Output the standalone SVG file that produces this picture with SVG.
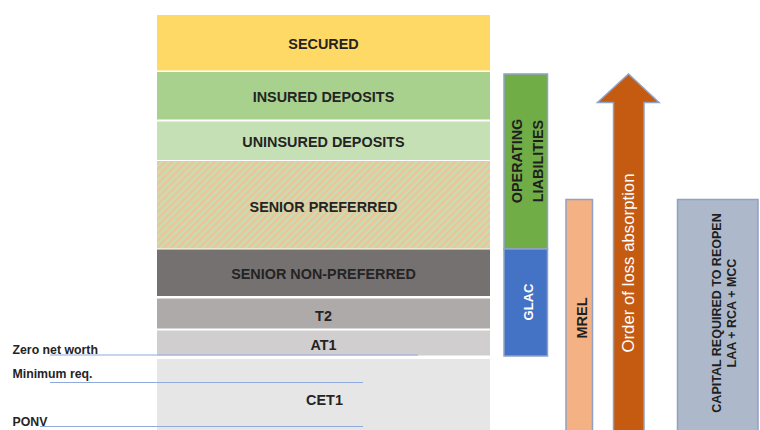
<svg xmlns="http://www.w3.org/2000/svg" width="760" height="430" viewBox="0 0 760 430">
<style>
.lbl{font-family:"Liberation Sans",Arial,sans-serif;font-weight:bold;font-size:14.4px;fill:#242424;text-anchor:middle}
.side{font-family:"Liberation Sans",Arial,sans-serif;font-weight:bold;font-size:12.3px;fill:#242424}
.vt{font-family:"Liberation Sans",Arial,sans-serif;font-weight:bold;text-anchor:middle}
.box{stroke:#8FA2C4;stroke-width:1.5}
.lvl{stroke:#8FAADC;stroke-width:1.2;fill:none}
</style>
<defs>
<pattern id="hatch" patternUnits="userSpaceOnUse" width="5" height="5" patternTransform="rotate(45)">
<rect width="5" height="5" fill="#C5DFB0"/>
<rect width="2.5" height="5" fill="#EFC29A"/>
</pattern>
</defs>
<rect width="760" height="430" fill="#ffffff"/>
<g id="secured"><rect x="157" y="15" width="333" height="55.5" fill="#FFD966"/><text class="lbl" x="323.5" y="49">SECURED</text></g>
<g id="insured"><rect x="157" y="72" width="333" height="47.5" fill="#A9D18E"/><text class="lbl" x="323.5" y="102">INSURED DEPOSITS</text></g>
<g id="uninsured"><rect x="157" y="121.5" width="333" height="38.5" fill="#C5E0B4"/><text class="lbl" x="323.5" y="146.5">UNINSURED DEPOSITS</text></g>
<g id="senior-preferred"><rect x="157" y="161" width="333" height="87.5" fill="url(#hatch)"/><text class="lbl" x="323.5" y="212">SENIOR PREFERRED</text></g>
<g id="senior-non-preferred"><rect x="157" y="249.5" width="333" height="46.5" fill="#767171"/><text class="lbl" x="323.5" y="279">SENIOR NON-PREFERRED</text></g>
<g id="t2"><rect x="157" y="298.5" width="333" height="30" fill="#AEAAAA"/><text class="lbl" x="323.5" y="320.5">T2</text></g>
<g id="at1"><rect x="157" y="330.5" width="333" height="25" fill="#D0CECE"/><text class="lbl" x="323.5" y="350">AT1</text></g>
<g id="cet1"><rect x="157" y="359" width="333" height="71" fill="#E7E6E6"/><text class="lbl" x="324.5" y="405">CET1</text></g>
<g id="levels">
<line class="lvl" x1="50" y1="355" x2="418" y2="355" stroke="#8C9BB5"/>
<line class="lvl" x1="50" y1="382.5" x2="363" y2="382.5"/>
<line class="lvl" x1="40" y1="426.5" x2="363" y2="426.5"/>
<text class="side" x="12.5" y="353.5">Zero net worth</text>
<text class="side" x="12.5" y="377.5">Minimum req.</text>
<text class="side" x="12.5" y="425.5">PONV</text>
</g>
<g id="operating-liabilities"><rect class="box" x="504" y="74" width="43.5" height="175" fill="#70AD47"/>
<text class="vt" font-size="14.4" fill="#1f1f1f" transform="translate(521.5,161) rotate(-90)">OPERATING</text>
<text class="vt" font-size="14.4" fill="#1f1f1f" transform="translate(543,161) rotate(-90)">LIABILITIES</text></g>
<g id="glac"><rect class="box" x="504" y="249" width="43.5" height="107" fill="#4472C4"/>
<text class="vt" font-size="13" fill="#ffffff" transform="translate(532.5,302) rotate(-90)">GLAC</text></g>
<g id="mrel"><rect class="box" x="566" y="199.5" width="26.5" height="232" fill="#F4B183"/>
<text class="vt" font-size="14.5" fill="#1f1f1f" transform="translate(586.5,318) rotate(-90)">MREL</text></g>
<g id="loss-arrow"><path class="box" d="M613.5,432 V102.5 H597.5 L628.5,74 L659,102.5 H644 V432 Z" fill="#C55A11"/>
<text font-family="Liberation Sans,Arial,sans-serif" font-size="16.8" fill="#ffffff" text-anchor="middle" transform="translate(634,263) rotate(-90)">Order of loss absorption</text></g>
<g id="capital"><rect class="box" x="677.5" y="199.5" width="80.5" height="232" fill="#ADB9CA"/>
<text class="vt" font-size="12.5" fill="#1f1f1f" transform="translate(720.5,313) rotate(-90)">CAPITAL REQUIRED TO REOPEN</text>
<text class="vt" font-size="12.5" fill="#1f1f1f" transform="translate(735.5,313) rotate(-90)">LAA + RCA + MCC</text></g>
<g id="connectors"></g>
</svg>
